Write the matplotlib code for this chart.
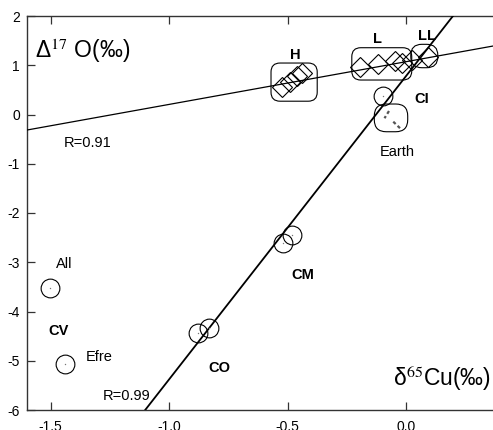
import matplotlib
matplotlib.use("Agg")
import matplotlib.pyplot as plt
from matplotlib.patches import FancyBboxPatch
import numpy as np

plt.rcParams['font.family'] = ['Liberation Sans', 'DejaVu Sans']
plt.rcParams['mathtext.fontset'] = 'stix'
plt.rcParams['axes.unicode_minus'] = False

# ---- data ----
# circles (carbonaceous chondrites etc.)
cv_x = [-1.502, -1.439]
cv_y = [-3.52, -5.07]
co_x = [-0.88, -0.83]
co_y = [-4.44, -4.34]
cm_x = [-0.52, -0.482]
cm_y = [-2.60, -2.45]
ci_x = [-0.097]
ci_y = [0.376]

# diamonds (ordinary chondrites)
h_x = [-0.523, -0.489, -0.461, -0.440]
h_y = [0.565, 0.654, 0.788, 0.837]
l_x = [-0.194, -0.117, -0.046, -0.018]
l_y = [0.97, 1.02, 1.09, 1.04]
ll_x = [0.024, 0.093]
ll_y = [1.11, 1.17]

# Earth sample spread (dashed segments)
earth_seg1_x = [-0.072, -0.091]
earth_seg1_y = [0.071, -0.076]
earth_seg2_x = [-0.054, -0.025]
earth_seg2_y = [-0.146, -0.280]

# group envelopes: (xmin, xmax, ymin, ymax, rounding px)
groups = {
    'H': (-0.57, -0.375, 0.27, 1.045, 9),
    'L': (-0.229, 0.024, 0.70, 1.356, 9),
    'LL': (0.02, 0.134, 0.95, 1.425, 11),
    'Earth': (-0.134, 0.007, -0.35, 0.213, 12),
}

# regression lines: slope, intercept
fit_ord = (0.867, 1.072)   # R=0.91
fit_carb = (6.158, 0.781)  # R=0.99

# labels: text, x, y, bold
labels = [
    ('H', -0.468, 1.208, True),
    ('L', -0.119, 1.533, True),
    ('LL', 0.087, 1.594, True),
    ('CI', 0.066, 0.315, True),
    ('Earth', -0.039, -0.755, False),
    ('R=0.91', -1.345, -0.573, False),
    ('All', -1.444, -3.041, False),
    ('CV', -1.465, -4.396, True),
    ('Efre', -1.296, -4.919, False),
    ('CO', -0.790, -5.141, True),
    ('R=0.99', -1.181, -5.716, False),
    ('CM', -0.436, -3.259, True),
]

xticks = [-1.5, -1.0, -0.5, 0.0]
xticklabels = ['-1.5', '-1.0', '-0.5', '0.0']
yticks = [2, 1, 0, -1, -2, -3, -4, -5, -6]

xlim = (-1.6, 0.367)
ylim = (-6, 2)

# ---- figure ----
W, H = 493, 430
fig = plt.figure(figsize=(W / 100, H / 100), dpi=100)
ax_l, ax_r, ax_b, ax_t = 27, 493, 410, 16
ax = fig.add_axes([ax_l / W, 1 - ax_b / H, (ax_r - ax_l) / W, (ax_b - ax_t) / H])
ax.set_xlim(*xlim)
ax.set_ylim(*ylim)

# regression lines
xx = np.array(xlim)
ax.plot(xx, fit_ord[0] * xx + fit_ord[1], color='black', lw=0.9, zorder=3)
ax.plot(xx, fit_carb[0] * xx + fit_carb[1], color='black', lw=1.3, zorder=3)

# envelopes
px_x = (ax_r - ax_l) / (xlim[1] - xlim[0])
px_y = (ax_b - ax_t) / (ylim[1] - ylim[0])
m_aspect = px_x / px_y
for name, (x0, x1, y0, y1, r) in groups.items():
    patch = FancyBboxPatch((x0, y0), x1 - x0, y1 - y0,
                           boxstyle=f"round,pad=0,rounding_size={r / px_x}",
                           mutation_aspect=m_aspect,
                           fc='none', ec='black', lw=0.8, zorder=4)
    ax.add_patch(patch)

# Earth spread
for sx, sy in [(earth_seg1_x, earth_seg1_y), (earth_seg2_x, earth_seg2_y)]:
    ax.plot(sx, sy, color='#555555', lw=1.6, ls=(0, (1.5, 1.2)), zorder=4)

# circles
for cx, cy in [(cv_x, cv_y), (co_x, co_y), (cm_x, cm_y), (ci_x, ci_y)]:
    ax.plot(cx, cy, ls='none', marker='o', ms=13.5, mfc='none', mec='black',
            mew=0.8, zorder=5)
    ax.plot(cx, cy, ls='none', marker='o', ms=1.0, mfc='#777777', mec='none',
            zorder=5)

# diamonds
for dx, dy in [(h_x, h_y), (l_x, l_y), (ll_x, ll_y)]:
    ax.plot(dx, dy, ls='none', marker='D', ms=10.5, mfc='none', mec='black',
            mew=0.8, zorder=5)

for txt, x, y, bold in labels:
    ax.text(x, y, txt, ha='center', va='center', fontsize=10.5,
            fontweight='bold' if bold else 'normal', zorder=6)

# axis titles inside
ax.text(35 / W, 1 - 58 / H, r'Δ$^{17}$ O(‰)', transform=fig.transFigure,
        fontsize=16.5, ha='left', va='baseline')
ax.text(393 / W, 1 - 386 / H, r'δ$^{65}$Cu(‰)', transform=fig.transFigure,
        fontsize=16.5, ha='left', va='baseline')

# spines and ticks
ax.spines['right'].set_visible(False)
for s in ['left', 'bottom', 'top']:
    ax.spines[s].set_linewidth(1.0)
    ax.spines[s].set_color('#333333')
ax.set_xticks(xticks)
ax.set_xticklabels(xticklabels)
ax.set_yticks(yticks)
ax.tick_params(axis='both', direction='in', length=5.5, width=0.9,
               color='#333333', labelsize=10, top=True, labeltop=False)
ax.tick_params(axis='x', pad=7)
ax.tick_params(axis='y', pad=5)

fig.savefig('out.png', dpi=100)
